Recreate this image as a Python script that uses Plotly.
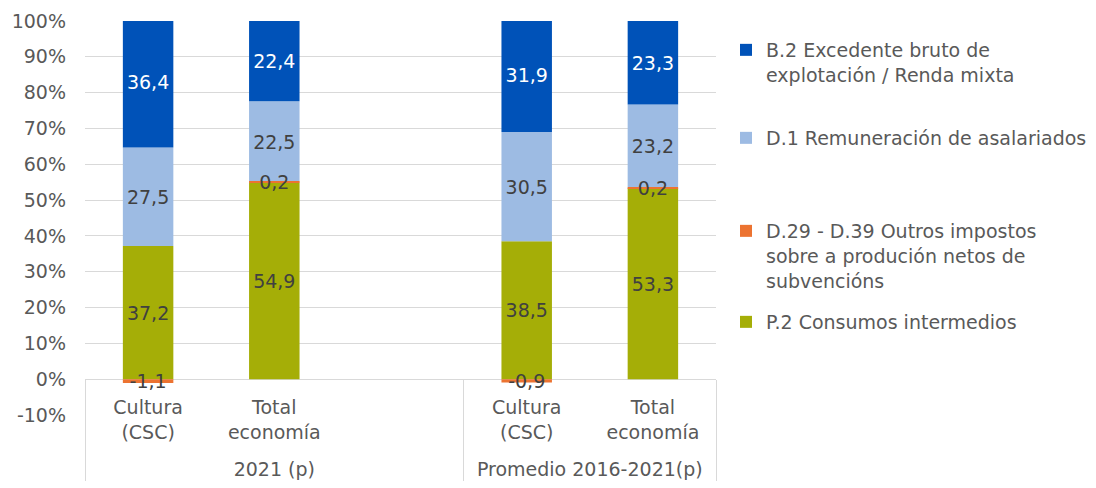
import plotly.graph_objects as go

groups = ["2021 (p)", "2021 (p)", "2021 (p)", "Promedio 2016-2021(p)", "Promedio 2016-2021(p)"]
categories = ["Cultura<br>(CSC)<br>\u00a0", "Total<br>economía<br>\u00a0", "\u00a0", "Cultura<br>(CSC)<br>\u00a0", "Total<br>economía<br>\u00a0"]

p2 = [37.2, 54.9, None, 38.5, 53.3]
d29 = [-1.1, 0.2, None, -0.9, 0.2]
d1 = [27.5, 22.5, None, 30.5, 23.2]
b2 = [36.4, 22.4, None, 31.9, 23.3]

series_names = [
    "P.2 Consumos intermedios",
    "D.29 - D.39 Outros impostos<br>sobre a produción netos de<br>subvencións",
    "D.1 Remuneración de asalariados",
    "B.2 Excedente bruto de<br>explotación / Renda mixta",
]
series_values = [p2, d29, d1, b2]
colors = ["#A5AE07", "#EC7331", "#9DBBE3", "#0052B8"]
label_colors = ["#404040", "#404040", "#404040", "#FFFFFF"]
legend_ids = ["legend4", "legend3", "legend2", "legend"]
zorders = [0, 1, 0, 0]

ytickvals = [-10, 0, 10, 20, 30, 40, 50, 60, 70, 80, 90, 100]
yticktext = ["-10%", "0%", "10%", "20%", "30%", "40%", "50%", "60%", "70%", "80%", "90%", "100%"]

FONT = "DejaVu Sans"
GRAY = "#595959"
GRID = "#D9D9D9"

# page body has an 8px margin, so the figure is placed at (8, 8)
OFF = 8
W, H = 1096 - OFF, 488 - OFF
ML, MT = 85 - OFF, 21 - OFF
MR = W - (716 - OFF)
MB = H - (415 - OFF)
PW = W - ML - MR
PH = H - MT - MB

def fmt(v):
    return "" if v is None else f"{v:.1f}".replace(".", ",")

fig = go.Figure()
for name, vals, col, lc, lid, zo in zip(series_names, series_values, colors, label_colors, legend_ids, zorders):
    fig.add_trace(go.Bar(
        x=[groups, categories],
        y=vals,
        name=name,
        marker=dict(color=col, line=dict(width=0)),
        text=[fmt(v) for v in vals],
        textposition="inside",
        insidetextanchor="middle",
        textangle=0,
        constraintext="none",
        textfont=dict(family=FONT, size=19, color=lc),
        legend=lid,
        zorder=zo,
        hoverinfo="skip",
    ))

# legend top edges (page pixels)
legend_px = {"legend": 31, "legend2": 119, "legend3": 212, "legend4": 303}
legend_x_px = 726
legends = {}
for lid, ypx in legend_px.items():
    legends[lid] = dict(
        x=(legend_x_px - 85) / PW,
        y=1 - (ypx - 21) / PH,
        xanchor="left",
        yanchor="top",
        valign="top",
        font=dict(family=FONT, size=19, color=GRAY),
        bgcolor="rgba(0,0,0,0)",
        borderwidth=0,
        itemclick=False,
        itemdoubleclick=False,
    )

fig.update_layout(
    width=W,
    height=H,
    barmode="relative",
    bargap=0.6,
    margin=dict(l=ML, r=MR, t=MT, b=MB, autoexpand=False),
    paper_bgcolor="white",
    plot_bgcolor="white",
    font=dict(family=FONT, size=19, color=GRAY),
    showlegend=True,
    **legends,
    xaxis=dict(
        type="multicategory",
        anchor="free",
        position=10 / 110,
        showline=True,
        linecolor=GRID,
        linewidth=1,
        showgrid=False,
        ticks="",
        ticklabelstandoff=11,
        showdividers=True,
        dividercolor=GRID,
        dividerwidth=1,
        tickfont=dict(family=FONT, size=19, color=GRAY),
    ),
    yaxis=dict(
        range=[-10, 100],
        tickvals=ytickvals,
        ticktext=yticktext,
        showgrid=True,
        gridcolor=GRID,
        gridwidth=1,
        zeroline=True,
        zerolinecolor=GRID,
        zerolinewidth=1,
        ticks="",
        ticklabelstandoff=18,
        tickfont=dict(family=FONT, size=19, color=GRAY),
    ),
)

fig.write_html("out.html")
